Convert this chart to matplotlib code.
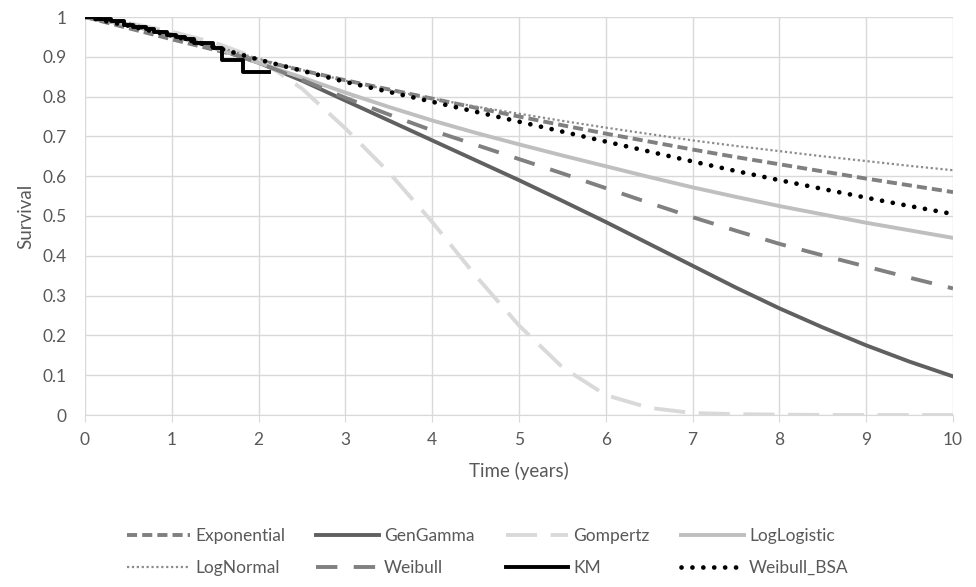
import matplotlib
matplotlib.use('Agg')
import matplotlib.pyplot as plt

plt.rcParams['font.family'] = ['Lato', 'DejaVu Sans']

# time grid (years) and survival
years = [0, 0.5, 1, 1.5, 2, 2.5, 3, 3.5, 4, 4.5, 5, 5.5, 6, 6.5, 7, 7.5, 8, 8.5, 9, 9.5, 10]

exponential = [1, 0.972, 0.944, 0.917, 0.891, 0.866, 0.841, 0.818, 0.795, 0.772, 0.750, 0.728, 0.707, 0.687, 0.667, 0.648, 0.630, 0.612, 0.594, 0.577, 0.560]
gengamma = [1, 0.980, 0.955, 0.922, 0.885, 0.840, 0.790, 0.740, 0.690, 0.640, 0.590, 0.538, 0.485, 0.430, 0.375, 0.320, 0.268, 0.220, 0.175, 0.134, 0.097]
gompertz = [1, 0.985, 0.963, 0.935, 0.895, 0.820, 0.720, 0.610, 0.485, 0.350, 0.225, 0.120, 0.050, 0.018, 0.005, 0.002, 0.001, 0, 0, 0, 0]
loglogistic = [1, 0.980, 0.955, 0.922, 0.885, 0.848, 0.810, 0.774, 0.740, 0.709, 0.680, 0.652, 0.625, 0.598, 0.572, 0.548, 0.525, 0.504, 0.483, 0.464, 0.445]
lognormal = [1, 0.985, 0.958, 0.927, 0.895, 0.867, 0.840, 0.817, 0.795, 0.775, 0.757, 0.739, 0.722, 0.706, 0.690, 0.676, 0.663, 0.650, 0.638, 0.626, 0.615]
weibull = [1, 0.980, 0.955, 0.922, 0.885, 0.842, 0.797, 0.755, 0.715, 0.679, 0.643, 0.607, 0.570, 0.533, 0.497, 0.463, 0.430, 0.401, 0.373, 0.345, 0.318]
weibull_bsa = [1, 0.978, 0.953, 0.924, 0.893, 0.865, 0.837, 0.812, 0.787, 0.762, 0.737, 0.712, 0.687, 0.662, 0.637, 0.613, 0.590, 0.568, 0.546, 0.525, 0.505]

km_t = [0, 0.15, 0.3, 0.45, 0.55, 0.7, 0.8, 0.95, 1.05, 1.15, 1.25, 1.48, 1.58, 1.82, 2.12]
km_s = [1, 0.995, 0.99, 0.98, 0.975, 0.97, 0.962, 0.955, 0.95, 0.945, 0.934, 0.922, 0.892, 0.862, 0.862]

fig = plt.figure(figsize=(9.76, 5.87), dpi=100)
ax = fig.add_axes([85 / 976, 1 - 415 / 587, 868 / 976, 398 / 587])

ax.plot(years, exponential, color='#808080', lw=2.8, dashes=(2.6, 1.3), label='Exponential')
ax.plot(years, gengamma, color='#606060', lw=2.8, label='GenGamma')
ax.plot(years, gompertz, color='#d9d9d9', lw=2.8, dashes=(8, 3.5), label='Gompertz')
ax.plot(years, loglogistic, color='#bfbfbf', lw=2.8, label='LogLogistic')
ax.plot(years, lognormal, color='#8c8c8c', lw=1.6, dashes=(1, 1.2), label='LogNormal')
ax.plot(years, weibull, color='#808080', lw=2.8, dashes=(5.5, 4.2), label='Weibull')
ax.step(km_t, km_s, where='post', color='black', lw=2.8, label='KM')
ax.plot(years, weibull_bsa, color='black', lw=3.4, linestyle=(0, (0.01, 2.3)),
        dash_capstyle='round', label='Weibull_BSA')

ax.set_xlim(0, 10)
ax.set_ylim(0, 1)
ax.set_xticks(range(0, 11))
ax.set_yticks([i / 10 for i in range(11)])
ax.set_yticklabels(['0', '0.1', '0.2', '0.3', '0.4', '0.5', '0.6', '0.7', '0.8', '0.9', '1'])
ax.grid(True, color='#d9d9d9', lw=1)
ax.set_axisbelow(True)
for s in ['top', 'right', 'left']:
    ax.spines[s].set_visible(False)
ax.spines['bottom'].set_color('#d9d9d9')
ax.tick_params(axis='x', colors='#d9d9d9', length=5, labelcolor='#595959', labelsize=12.5, pad=7)
ax.tick_params(axis='y', length=0, labelcolor='#595959', labelsize=12.5, pad=13)

ax.set_xlabel('Time (years)', fontsize=13.5, color='#595959', labelpad=10)
ax.set_ylabel('Survival', fontsize=13.5, color='#595959', labelpad=6)

h, l = ax.get_legend_handles_labels()
order = [0, 4, 1, 5, 2, 6, 3, 7]
fig.legend([h[i] for i in order], [l[i] for i in order], ncol=4, loc='center',
           bbox_to_anchor=(0.5, 1 - 552 / 587), frameon=False, fontsize=12.5,
           handlelength=3.6, handletextpad=0.3, columnspacing=1.8, labelspacing=0.9,
           labelcolor='#595959')

fig.savefig('out.png', dpi=100)
